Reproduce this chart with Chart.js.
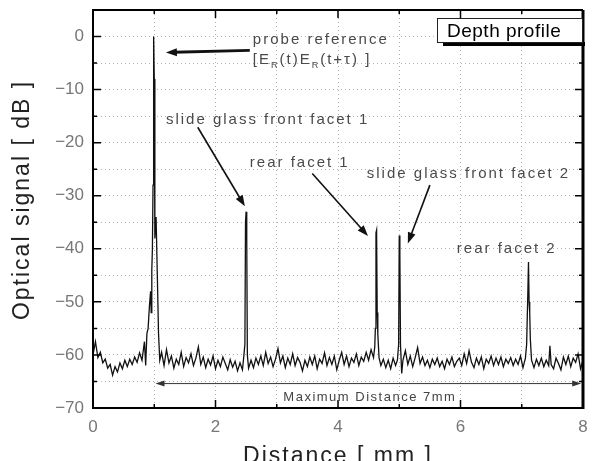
<!DOCTYPE html>
<html>
<head>
<meta charset="utf-8">
<script src="https://cdn.jsdelivr.net/npm/chart.js@4.4.0/dist/chart.umd.min.js"></script>
<style>
  html, body { margin: 0; padding: 0; background: #fff; }
  canvas { display: block; }
</style>
</head>
<body>
<canvas id="depthChart" width="592" height="461"></canvas>
<script>
// Depth profile trace (distance in mm, signal in dB)
const distanceMm = [
  0.00, 0.04, 0.08, 0.12, 0.16, 0.20, 0.24, 0.28, 0.32, 0.36,
  0.40, 0.44, 0.48, 0.52, 0.56, 0.60, 0.64, 0.68, 0.72, 0.76,
  0.80, 0.84, 0.86, 0.88, 0.90, 0.92, 0.94, 0.95, 0.96, 0.97,
  0.98, 0.99, 1.00, 1.01, 1.03, 1.05, 1.07, 1.09, 1.12, 1.16,
  1.20, 1.24, 1.28, 1.32, 1.36, 1.40, 1.44, 1.48, 1.52, 1.56,
  1.60, 1.64, 1.68, 1.72, 1.76, 1.80, 1.84, 1.88, 1.92, 1.96,
  2.00, 2.04, 2.08, 2.12, 2.16, 2.20, 2.24, 2.28, 2.32, 2.36,
  2.40, 2.44, 2.46, 2.48, 2.49, 2.50, 2.51, 2.52, 2.54, 2.58,
  2.62, 2.66, 2.70, 2.74, 2.78, 2.82, 2.86, 2.90, 2.94, 2.98,
  3.02, 3.06, 3.10, 3.14, 3.18, 3.22, 3.26, 3.30, 3.34, 3.38,
  3.42, 3.46, 3.50, 3.54, 3.58, 3.62, 3.66, 3.70, 3.74, 3.78,
  3.82, 3.86, 3.90, 3.94, 3.98, 4.02, 4.06, 4.10, 4.14, 4.18,
  4.22, 4.26, 4.30, 4.34, 4.38, 4.42, 4.46, 4.50, 4.54, 4.58,
  4.60, 4.61, 4.62, 4.63, 4.64, 4.65, 4.67, 4.70, 4.74, 4.78,
  4.82, 4.86, 4.90, 4.94, 4.97, 4.99, 5.00, 5.01, 5.02, 5.04,
  5.06, 5.10, 5.14, 5.18, 5.22, 5.26, 5.30, 5.34, 5.38, 5.42,
  5.46, 5.50, 5.54, 5.58, 5.62, 5.66, 5.70, 5.74, 5.78, 5.82,
  5.86, 5.90, 5.94, 5.98, 6.02, 6.06, 6.10, 6.14, 6.18, 6.22,
  6.26, 6.30, 6.34, 6.38, 6.42, 6.46, 6.50, 6.54, 6.58, 6.62,
  6.66, 6.70, 6.74, 6.78, 6.82, 6.86, 6.90, 6.94, 6.98, 7.02,
  7.06, 7.08, 7.10, 7.11, 7.12, 7.13, 7.14, 7.16, 7.20, 7.24,
  7.28, 7.32, 7.36, 7.40, 7.44, 7.46, 7.48, 7.52, 7.56, 7.60,
  7.64, 7.68, 7.72, 7.76, 7.80, 7.84, 7.88, 7.92, 7.96, 8.00
];
const signalDb = [
  -60, -57.5, -60.5, -59.5, -61.5, -60.8, -62.5, -61.8, -63.8, -62.2,
  -63.2, -61.5, -62.6, -61, -62.2, -60.8, -61.8, -60.4, -61.4, -59.6,
  -61, -57.5, -62, -56, -55, -51, -48, -52, -44, -40,
  -28, 0, -8, -38, -34, -45, -56, -61, -59.5, -62,
  -59, -61.5, -60.2, -62.5, -60.8, -61.8, -59.5, -62.2, -60.5, -61.5,
  -59.8, -62, -60.6, -58.5, -61.8, -60.4, -62.4, -60.8, -61.9, -60.2,
  -62.6, -61, -62.2, -60.4, -61.6, -62.8, -60.9, -62.3, -61.2, -63,
  -61.5, -62.8, -60.5, -58, -35, -33, -38, -60, -62.5, -61,
  -62.4, -60.6, -61.8, -60.2, -62, -59.5, -61.6, -60.4, -62.2, -60.8,
  -58.8, -61.5, -60.2, -62.4, -60.6, -61.8, -59.8, -62, -60.5, -61.4,
  -63, -61, -62.2, -60.4, -61.8, -60.2, -62.6, -60.8, -61.6, -59.6,
  -62, -60.5, -61.8, -60.2, -62.8, -61, -59.5, -61.8, -60.2, -62.2,
  -60.6, -61.4, -59.8, -62, -60.4, -61.2, -59.5, -61, -59, -60.5,
  -58.5, -55, -37, -36.5, -52, -56, -60.5, -62, -60.8, -62.4,
  -61, -62.6, -60.6, -62, -61, -58, -37.5, -41, -58, -63.5,
  -61, -59.2, -61.8, -60.2, -62.2, -60.5, -58.6, -61.6, -60.4, -62,
  -61, -62.4, -60.8, -61.8, -60.6, -62.2, -61.2, -62.6, -60.8, -61.8,
  -60.4, -62.2, -61.2, -60.6, -62, -59.8, -61.6, -59.2, -61.4, -62.4,
  -60.6, -61.8, -60.4, -62.6, -60.8, -61.6, -60.2, -62, -60.6, -61.8,
  -60.4, -62.2, -60.8, -61.6, -60.5, -62, -60.8, -61.8, -60.2, -62.4,
  -60.6, -58, -48, -42.5, -50, -52, -57, -61, -62.4, -60.8,
  -62, -60.6, -62.2, -61, -62, -58.3, -61.8, -62.6, -60.6, -61.6,
  -62.8, -60.4, -61.8, -60.2, -62.2, -60.6, -61.4, -59.8, -62.6, -61
];

// axis ranges and labels
const xRange = [0, 8];
const yRange = [-70, 5];
const xTitle = 'Distance [ mm ]';
const yTitle = 'Optical signal [ dB ]';
const boxTitle = 'Depth profile';

// annotation texts and arrows, in data units
const labels = [
  { text: 'probe reference', x: 2.61, y: -1.5 },
  { text: 'slide glass front facet 1', x: 1.19, y: -16.4 },
  { text: 'rear facet 1', x: 2.56, y: -24.6 },
  { text: 'slide glass front facet 2', x: 4.47, y: -26.7 },
  { text: 'rear facet 2', x: 5.94, y: -40.8 }
];
const arrows = [
  { from: [2.56, -2.6], to: [1.19, -3.0], lw: 2.8 },
  { from: [1.71, -17.1], to: [2.48, -32.0], lw: 1.6 },
  { from: [3.58, -25.8], to: [4.49, -37.6], lw: 1.6 },
  { from: [5.50, -28.0], to: [5.14, -39.0], lw: 1.6 }
];
const spanArrow = { from: 1.02, to: 7.97, y: -65.4, text: 'Maximum Distance 7mm' };

const FONT = '"Liberation Sans", Arial, sans-serif';

function drawArrowHead(ctx, x1, y1, x2, y2, len, half) {
  const a = Math.atan2(y2 - y1, x2 - x1);
  ctx.beginPath();
  ctx.moveTo(x2, y2);
  ctx.lineTo(x2 - len * Math.cos(a) + half * Math.sin(a), y2 - len * Math.sin(a) - half * Math.cos(a));
  ctx.lineTo(x2 - len * Math.cos(a) - half * Math.sin(a), y2 - len * Math.sin(a) + half * Math.cos(a));
  ctx.closePath();
  ctx.fill();
}

function drawArrow(ctx, x1, y1, x2, y2, lw, len, half) {
  const a = Math.atan2(y2 - y1, x2 - x1);
  ctx.lineWidth = lw;
  ctx.beginPath();
  ctx.moveTo(x1, y1);
  ctx.lineTo(x2 - len * 0.7 * Math.cos(a), y2 - len * 0.7 * Math.sin(a));
  ctx.stroke();
  drawArrowHead(ctx, x1, y1, x2, y2, len, half);
}

// inner tick marks, frame, titles and annotations
const decorPlugin = {
  id: 'decor',
  afterDatasetsDraw(chart) {
    const { ctx, chartArea: a, scales: { x, y } } = chart;
    ctx.save();
    ctx.strokeStyle = '#000';
    ctx.fillStyle = '#000';
    ctx.lineWidth = 1.5;
    x.ticks.forEach(t => {
      const px = x.getPixelForValue(t.value);
      const len = t.value % 2 === 0 ? 8 : 4;
      ctx.beginPath();
      ctx.moveTo(px, a.bottom); ctx.lineTo(px, a.bottom - len);
      ctx.moveTo(px, a.top); ctx.lineTo(px, a.top + len);
      ctx.stroke();
    });
    y.ticks.forEach(t => {
      const py = y.getPixelForValue(t.value);
      const len = t.value % 10 === 0 ? 8 : 4;
      ctx.beginPath();
      ctx.moveTo(a.left, py); ctx.lineTo(a.left + len, py);
      ctx.moveTo(a.right, py); ctx.lineTo(a.right - len, py);
      ctx.stroke();
    });

    // frame
    ctx.lineWidth = 2;
    ctx.beginPath();
    ctx.moveTo(a.right, a.top); ctx.lineTo(a.left, a.top);
    ctx.lineTo(a.left, a.bottom); ctx.lineTo(a.right, a.bottom);
    ctx.stroke();
    ctx.lineWidth = 3;
    ctx.beginPath();
    ctx.moveTo(a.right, a.top); ctx.lineTo(a.right, a.bottom + 1);
    ctx.stroke();

    // annotation labels
    ctx.letterSpacing = '2px';
    ctx.font = '15px ' + FONT;
    ctx.fillStyle = '#4a4a4a';
    ctx.textAlign = 'left';
    ctx.textBaseline = 'alphabetic';
    labels.forEach(l => ctx.fillText(l.text, x.getPixelForValue(l.x), y.getPixelForValue(l.y)));

    // [E_R(t)E_R(t+tau)]
    let bx = x.getPixelForValue(2.61);
    const by = y.getPixelForValue(-5.1);
    const parts = [['[E', 0], ['R', 1], ['(t)E', 0], ['R', 1], ['(t+\u03c4) ]', 0]];
    parts.forEach(([s, sub]) => {
      ctx.font = (sub ? '9px ' : '15px ') + FONT;
      ctx.fillText(s, bx, by + (sub ? 4 : 0));
      bx += ctx.measureText(s).width;
    });

    // arrows
    ctx.fillStyle = '#111';
    ctx.strokeStyle = '#111';
    arrows.forEach(r => {
      drawArrow(ctx, x.getPixelForValue(r.from[0]), y.getPixelForValue(r.from[1]),
        x.getPixelForValue(r.to[0]), y.getPixelForValue(r.to[1]), r.lw, 11, 4);
    });

    // maximum distance span
    const sx1 = x.getPixelForValue(spanArrow.from);
    const sx2 = x.getPixelForValue(spanArrow.to);
    const sy = y.getPixelForValue(spanArrow.y);
    ctx.strokeStyle = '#333';
    ctx.fillStyle = '#333';
    ctx.lineWidth = 1;
    ctx.beginPath();
    ctx.moveTo(sx1 + 6, sy); ctx.lineTo(sx2 - 6, sy);
    ctx.stroke();
    drawArrowHead(ctx, sx2, sy, sx1, sy, 9, 3);
    drawArrowHead(ctx, sx1, sy, sx2, sy, 9, 3);
    ctx.letterSpacing = '1.5px';
    ctx.font = '13px ' + FONT;
    ctx.fillStyle = '#444';
    ctx.textAlign = 'center';
    ctx.fillText(spanArrow.text, x.getPixelForValue(4.52), y.getPixelForValue(-68.7));

    // title box
    const bl = 437, bt = 18, br = a.right, bb = 42;
    ctx.fillStyle = '#000';
    ctx.fillRect(bl + 6, bb, br - bl - 4, 4);
    ctx.fillStyle = '#fff';
    ctx.fillRect(bl, bt, br - bl, bb - bt);
    ctx.strokeStyle = '#222';
    ctx.lineWidth = 1;
    ctx.strokeRect(bl + 0.5, bt + 0.5, br - bl - 1, bb - bt);
    ctx.letterSpacing = '0.5px';
    ctx.font = '19px ' + FONT;
    ctx.fillStyle = '#000';
    ctx.textAlign = 'left';
    ctx.fillText(boxTitle, 447, 37);

    // axis titles
    ctx.letterSpacing = '2px';
    ctx.font = '23px ' + FONT;
    ctx.fillStyle = '#222';
    ctx.textAlign = 'center';
    ctx.fillText(xTitle, (a.left + a.right) / 2, 463);
    ctx.translate(29, 200);
    ctx.rotate(-Math.PI / 2);
    ctx.fillText(yTitle, 0, 0);
    ctx.restore();
  }
};

const points = distanceMm.map((d, i) => ({ x: d, y: signalDb[i] }));

new Chart(document.getElementById('depthChart'), {
  type: 'line',
  data: {
    datasets: [{
      data: points,
      borderColor: '#111',
      borderWidth: 1.3,
      pointRadius: 0,
      tension: 0
    }]
  },
  options: {
    responsive: false,
    animation: false,
    layout: { padding: { top: 10, right: 9, left: 0, bottom: 0 } },
    plugins: { legend: { display: false }, tooltip: { enabled: false } },
    scales: {
      x: {
        type: 'linear',
        min: xRange[0],
        max: xRange[1],
        afterFit(s) { s.height = 53; s.paddingLeft = 0; s.paddingRight = 0; },
        ticks: {
          stepSize: 1,
          color: '#777',
          font: { size: 17, family: FONT },
          padding: 9,
          maxRotation: 0,
          callback: v => (v % 2 === 0 ? String(v) : '')
        },
        grid: { color: '#b0b0b0', drawTicks: false },
        border: { display: false, dash: [1, 3] }
      },
      y: {
        min: yRange[0],
        max: yRange[1],
        afterFit(s) { s.width = 93; s.paddingTop = 0; s.paddingBottom = 0; },
        ticks: {
          stepSize: 5,
          color: '#777',
          font: { size: 17, family: FONT },
          padding: 9,
          callback: v => (v % 10 === 0 ? String(v).replace('-', '\u2212') : '')
        },
        grid: { color: '#b0b0b0', drawTicks: false },
        border: { display: false, dash: [1, 3] }
      }
    }
  },
  plugins: [decorPlugin]
});
</script>
</body>
</html>
